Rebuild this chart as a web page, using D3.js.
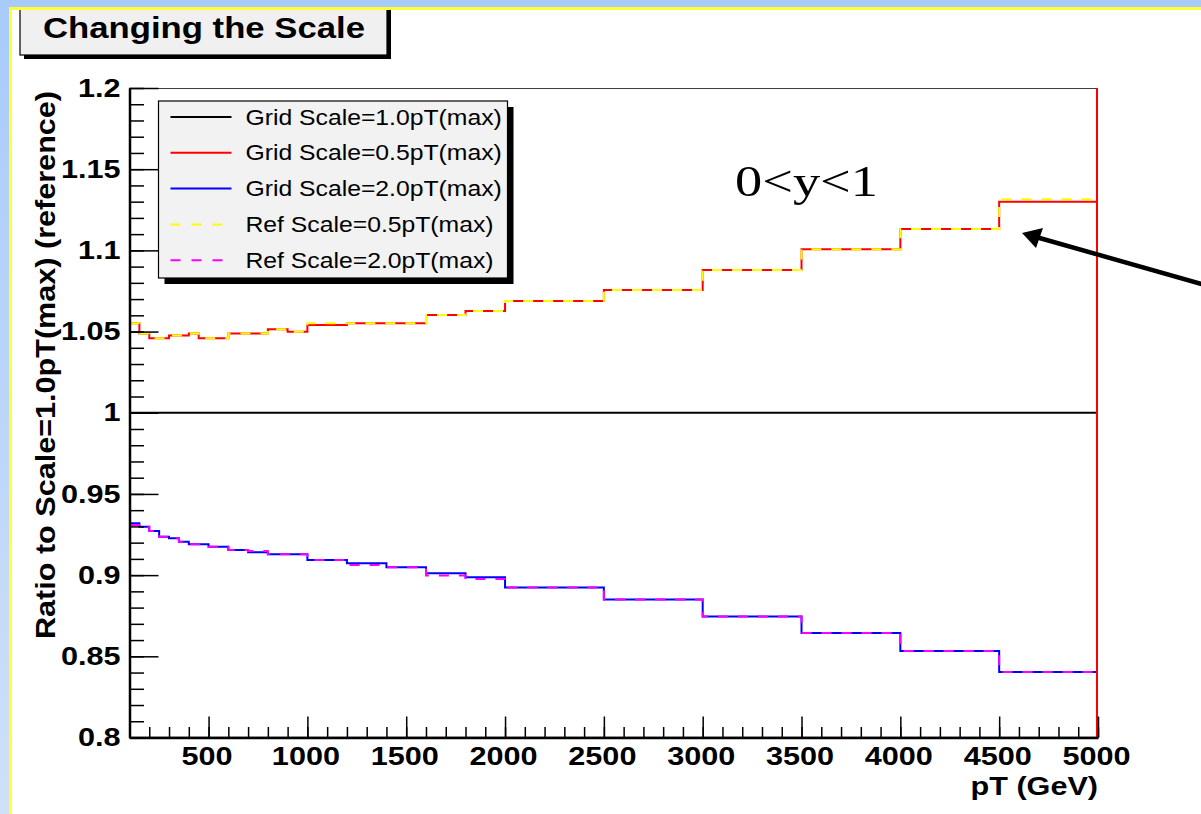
<!DOCTYPE html>
<html>
<head>
<meta charset="utf-8">
<script src="https://cdn.jsdelivr.net/npm/d3@7"></script>
<style>
  body { margin: 0; background: #fff; }
  svg { display: block; }
</style>
</head>
<body>
<script>
/**
 * Data
 */

// histogram bin edges in pT (GeV)
const binEdges = [100, 150, 200, 250, 300, 350, 400, 450, 500, 600, 700, 800, 900,
                  1000, 1200, 1400, 1600, 1800, 2000, 2500, 3000, 3500, 4000, 4500, 5000];

// one value per bin
const gridScale10 = [1, 1, 1, 1, 1, 1, 1, 1, 1, 1, 1, 1,
                     1, 1, 1, 1, 1, 1, 1, 1, 1, 1, 1, 1];
const gridScale05 = [1.0551, 1.0488, 1.0459, 1.0459, 1.0475, 1.0475, 1.0488, 1.0459,
                     1.0459, 1.0488, 1.0488, 1.0514, 1.0499, 1.0540, 1.0551, 1.0551,
                     1.0602, 1.0627, 1.0688, 1.0756, 1.0879, 1.1007, 1.1132, 1.1300];
const gridScale20 = [0.9319, 0.9298, 0.9272, 0.9237, 0.9227, 0.9206, 0.9190, 0.9190,
                     0.9175, 0.9155, 0.9141, 0.9128, 0.9128, 0.9093, 0.9073, 0.9048,
                     0.9011, 0.8987, 0.8924, 0.8850, 0.8745, 0.8644, 0.8533, 0.8404];
const refScale05  = [1.0551, 1.0488, 1.0459, 1.0459, 1.0475, 1.0475, 1.0488, 1.0459,
                     1.0459, 1.0488, 1.0488, 1.0514, 1.0499, 1.0551, 1.0551, 1.0551,
                     1.0602, 1.0627, 1.0688, 1.0756, 1.0879, 1.1007, 1.1132, 1.1315];
const refScale20  = [0.9309, 0.9298, 0.9272, 0.9237, 0.9227, 0.9206, 0.9190, 0.9190,
                     0.9175, 0.9155, 0.9148, 0.9128, 0.9128, 0.9093, 0.9063, 0.9048,
                     0.8997, 0.8976, 0.8924, 0.8850, 0.8745, 0.8644, 0.8533, 0.8404];

const seriesNames = ["Grid Scale=1.0pT(max)", "Grid Scale=0.5pT(max)", "Grid Scale=2.0pT(max)",
                     "Ref Scale=0.5pT(max)", "Ref Scale=2.0pT(max)"];

const xTickValues = [500, 1000, 1500, 2000, 2500, 3000, 3500, 4000, 4500, 5000];
const xTickLabels = ["500", "1000", "1500", "2000", "2500", "3000", "3500", "4000", "4500", "5000"];
const yTickValues = [0.8, 0.85, 0.9, 0.95, 1.0, 1.05, 1.1, 1.15, 1.2];
const yTickLabels = ["0.8", "0.85", "0.9", "0.95", "1", "1.05", "1.1", "1.15", "1.2"];

/**
 * Layout
 */

const WIDTH = 1201;
const HEIGHT = 814;

const PLOT_LEFT = 129.5;
const PLOT_RIGHT = 1098;
const PLOT_TOP = 88;
const PLOT_BOTTOM = 737.5;

const FONT = "'Liberation Sans', Arial, Helvetica, sans-serif";
const STRETCH = 1.2;          // the picture is wider than the fonts

const series = [
    { name: seriesNames[0], values: gridScale10, color: "#000000", dash: null },
    { name: seriesNames[1], values: gridScale05, color: "#ff0000", dash: null },
    { name: seriesNames[2], values: gridScale20, color: "#0000ff", dash: null },
    { name: seriesNames[3], values: refScale05,  color: "#ffff00", dash: "10,10" },
    { name: seriesNames[4], values: refScale20,  color: "#ff00ff", dash: "10,10" }
];

const svg = d3.select("body").append("svg")
    .attr("width", WIDTH)
    .attr("height", HEIGHT);

svg.append("rect")
    .attr("width", WIDTH)
    .attr("height", HEIGHT)
    .attr("fill", "#ffffff");

const x = d3.scaleLinear().domain([100, 5000]).range([PLOT_LEFT, PLOT_RIGHT]);
const y = d3.scaleLinear().domain([0.8, 1.2]).range([PLOT_BOTTOM, PLOT_TOP]);

// stretch a text selection horizontally so it matches the picture
function stretch(sel, f) {
    sel.each(function () {
        const w = this.getComputedTextLength();
        d3.select(this)
            .attr("textLength", w * f)
            .attr("lengthAdjust", "spacingAndGlyphs");
    });
}

/**
 * Histograms
 */

svg.append("clipPath").attr("id", "plotClip")
    .append("rect")
    .attr("x", PLOT_LEFT)
    .attr("y", PLOT_TOP)
    .attr("width", PLOT_RIGHT - PLOT_LEFT)
    .attr("height", PLOT_BOTTOM - PLOT_TOP);

const histLine = d3.line()
    .x(d => x(d[0]))
    .y(d => y(d[1]))
    .curve(d3.curveStepAfter);

function histPoints(values) {
    const pts = values.map((v, i) => [binEdges[i], v]);
    pts.push([binEdges[binEdges.length - 1], values[values.length - 1]]);
    return pts;
}

const plot = svg.append("g").attr("clip-path", "url(#plotClip)");

// frame behind the curves
plot.append("rect")
    .attr("x", PLOT_LEFT)
    .attr("y", PLOT_TOP)
    .attr("width", PLOT_RIGHT - PLOT_LEFT)
    .attr("height", PLOT_BOTTOM - PLOT_TOP)
    .attr("fill", "none")
    .attr("stroke", "#000")
    .attr("stroke-width", 1.5);

series.forEach(s => {
    plot.append("path")
        .attr("d", histLine(histPoints(s.values)))
        .attr("fill", "none")
        .attr("stroke", s.color)
        .attr("stroke-width", 2)
        .attr("stroke-dasharray", s.dash);
});

// the 0.5 histogram runs off the frame at the last edge
plot.append("line")
    .attr("x1", x(binEdges[binEdges.length - 1]) - 1)
    .attr("x2", x(binEdges[binEdges.length - 1]) - 1)
    .attr("y1", y.range()[0])
    .attr("y2", y.range()[1])
    .attr("stroke", "#ff0000")
    .attr("stroke-width", 2);

/**
 * Axes
 */

const yMinor = d3.range(80, 121).map(v => v / 100);
const xMinor = d3.range(2, 51).map(v => v * 100);

svg.append("g")
    .attr("transform", `translate(${PLOT_LEFT},0)`)
    .call(d3.axisLeft(y).tickValues(yMinor).tickSizeInner(-14.5).tickSizeOuter(0).tickFormat(""))
    .call(g => g.select(".domain").remove())
    .selectAll("line").attr("stroke-width", 1.5);

svg.append("g")
    .attr("transform", `translate(0,${PLOT_BOTTOM})`)
    .call(d3.axisBottom(x).tickValues(xMinor).tickSizeInner(-10.5).tickSizeOuter(0).tickFormat(""))
    .call(g => g.select(".domain").remove())
    .selectAll("line").attr("stroke-width", 1.5);

const yAxis = svg.append("g")
    .attr("transform", `translate(${PLOT_LEFT},0)`)
    .call(d3.axisLeft(y)
        .tickValues(yTickValues)
        .tickFormat((d, i) => yTickLabels[i])
        .tickSizeInner(-29)
        .tickSizeOuter(0)
        .tickPadding(9));

const xAxis = svg.append("g")
    .attr("transform", `translate(0,${PLOT_BOTTOM})`)
    .call(d3.axisBottom(x)
        .tickValues(xTickValues)
        .tickFormat((d, i) => xTickLabels[i])
        .tickSizeInner(-21)
        .tickSizeOuter(0)
        .tickPadding(9));

[yAxis, xAxis].forEach(a => {
    a.select(".domain").attr("stroke-width", 2.5);
    a.selectAll(".tick line").attr("stroke-width", 1.5);
    a.selectAll("text")
        .attr("font-family", FONT)
        .attr("font-weight", "bold")
        .attr("font-size", 25.5)
        .attr("fill", "#000");
});
stretch(yAxis.selectAll("text"), STRETCH);
stretch(xAxis.selectAll("text"), STRETCH);
xAxis.selectAll("text").attr("dx", -2);

svg.append("text")
    .attr("x", PLOT_RIGHT)
    .attr("y", 795)
    .attr("text-anchor", "end")
    .attr("font-family", FONT)
    .attr("font-weight", "bold")
    .attr("font-size", 25.5)
    .text("pT (GeV)")
    .call(stretch, STRETCH);

svg.append("text")
    .attr("transform", `translate(55,${PLOT_TOP + 3}) rotate(-90)`)
    .attr("text-anchor", "end")
    .attr("font-family", FONT)
    .attr("font-weight", "bold")
    .attr("font-size", 28)
    .attr("textLength", 548)
    .attr("lengthAdjust", "spacingAndGlyphs")
    .text("Ratio to Scale=1.0pT(max) (reference)");

/**
 * Legend
 */

const LEG_X = 158.5, LEG_Y = 101, LEG_W = 349, LEG_H = 177, LEG_STEP = 35.8;

svg.append("rect")
    .attr("x", LEG_X + 6).attr("y", LEG_Y + 6)
    .attr("width", LEG_W).attr("height", LEG_H)
    .attr("fill", "#000");

svg.append("rect")
    .attr("x", LEG_X).attr("y", LEG_Y)
    .attr("width", LEG_W).attr("height", LEG_H)
    .attr("fill", "#f2f2f2")
    .attr("stroke", "#000")
    .attr("stroke-width", 1.2);

const legend = svg.append("g")
    .attr("transform", `translate(${LEG_X},${LEG_Y + 16})`);

const entries = legend.selectAll("g.entry")
    .data(series)
    .join("g")
    .attr("class", "entry")
    .attr("transform", (d, i) => `translate(0,${i * LEG_STEP})`);

entries.append("line")
    .attr("x1", 12)
    .attr("x2", d => d.dash ? 64 : 73)
    .attr("stroke", d => d.color)
    .attr("stroke-width", 2)
    .attr("stroke-dasharray", d => d.dash ? "10,11" : null);

entries.append("text")
    .attr("x", 87)
    .attr("y", 7.5)
    .attr("font-family", FONT)
    .attr("font-size", 21.5)
    .attr("fill", "#000")
    .text(d => d.name)
    .call(stretch, 1.15);

/**
 * Slide furniture: title box, annotation, arrow, border
 */

svg.append("rect")
    .attr("x", 24).attr("y", 10)
    .attr("width", 367).attr("height", 49)
    .attr("fill", "#000");

svg.append("rect")
    .attr("x", 20).attr("y", 6)
    .attr("width", 367).attr("height", 49)
    .attr("fill", "#f0f0f0")
    .attr("stroke", "#000")
    .attr("stroke-width", 1.2);

svg.append("text")
    .attr("x", 43)
    .attr("y", 38)
    .attr("font-family", FONT)
    .attr("font-weight", "bold")
    .attr("font-size", 29)
    .attr("textLength", 322)
    .attr("lengthAdjust", "spacingAndGlyphs")
    .text("Changing the Scale");

svg.append("text")
    .attr("x", 735)
    .attr("y", 196)
    .attr("font-family", "'Liberation Serif', 'Times New Roman', serif")
    .attr("font-size", 44)
    .attr("textLength", 143)
    .attr("lengthAdjust", "spacingAndGlyphs")
    .text("0<y<1");

svg.append("line")
    .attr("x1", 1205).attr("y1", 285)
    .attr("x2", 1036).attr("y2", 237)
    .attr("stroke", "#000")
    .attr("stroke-width", 4.5);

svg.append("path")
    .attr("d", "M1022,233 L1043,228 L1036,248 Z")
    .attr("fill", "#000");

// blue slide border with yellow rule
const grad = svg.append("defs").append("linearGradient")
    .attr("id", "sideBlue")
    .attr("x1", 0).attr("y1", 0).attr("x2", 0).attr("y2", 1);
grad.append("stop").attr("offset", "0%").attr("stop-color", "#a8cbfa");
grad.append("stop").attr("offset", "100%").attr("stop-color", "#cfe0f8");

svg.append("rect").attr("x", 0).attr("y", 0).attr("width", WIDTH).attr("height", 7).attr("fill", "#a8cbfa");
svg.append("rect").attr("x", 0).attr("y", 0).attr("width", 9).attr("height", HEIGHT).attr("fill", "url(#sideBlue)");
svg.append("rect").attr("x", 9).attr("y", 7).attr("width", WIDTH - 9).attr("height", 3).attr("fill", "#ffff33");
svg.append("rect").attr("x", 9).attr("y", 7).attr("width", 3).attr("height", HEIGHT - 7).attr("fill", "#ffff33");
</script>
</body>
</html>
